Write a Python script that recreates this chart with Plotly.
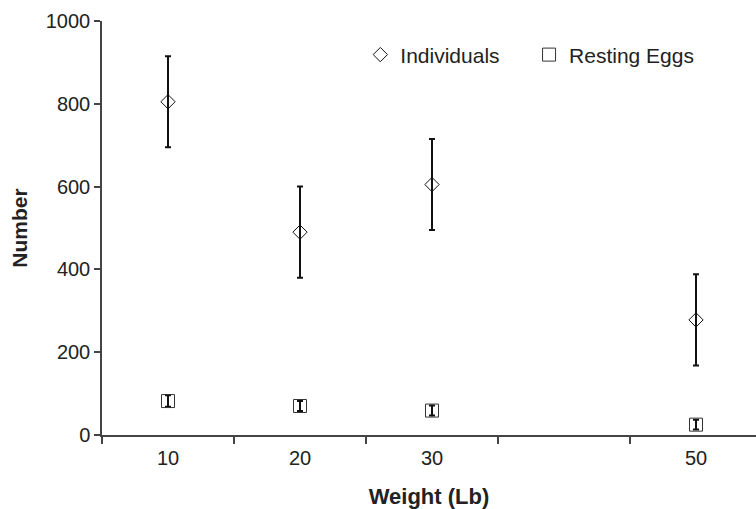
import plotly.graph_objects as go

# Data
categories = ["10", "20", "30", " ", "50"]
weights = ["10", "20", "30", "50"]
individuals = [805, 490, 605, 278]
individuals_err = [110, 110, 110, 110]
resting_eggs = [82, 70, 59, 25]
resting_eggs_err = [14, 12, 12, 12]
y_ticks = [0, 200, 400, 600, 800, 1000]

FONT = "Liberation Sans, Arial, Helvetica, sans-serif"
AXIS = "#444444"

fig = go.Figure()
fig.add_trace(go.Scatter(
    x=weights, y=individuals, mode="markers", name="Individuals", showlegend=True,
    marker=dict(symbol="diamond-open", size=11, color="#111111", line=dict(width=1, color="#111111")),
    error_y=dict(type="data", array=individuals_err, color="#111111", thickness=2, width=3),
    legend="legend",
))
fig.add_trace(go.Scatter(
    x=weights, y=resting_eggs, mode="markers", name="Resting Eggs", showlegend=True,
    marker=dict(symbol="square-open", size=13, color="#333333", line=dict(width=1, color="#333333")),
    error_y=dict(type="data", array=resting_eggs_err, color="#111111", thickness=2, width=3),
    legend="legend2",
))

fig.update_layout(
    width=756, height=509,
    margin=dict(l=102, r=0, t=21, b=74),
    paper_bgcolor="white", plot_bgcolor="white",
    showlegend=True,
    font=dict(family=FONT, size=20, color="#222222"),
    legend=dict(x=0.395, y=0.918, xanchor="left", yanchor="middle", bgcolor="rgba(0,0,0,0)",
                itemwidth=30, font=dict(size=21, color="#222222")),
    legend2=dict(x=0.653, y=0.918, xanchor="left", yanchor="middle", bgcolor="rgba(0,0,0,0)",
                 itemwidth=30, font=dict(size=21, color="#222222")),
    xaxis=dict(
        type="category", categoryorder="array", categoryarray=categories,
        range=[-0.5, -0.5 + 654 / 132],
        showline=True, linecolor=AXIS, linewidth=1.5,
        ticks="outside", tickson="boundaries", ticklen=7, tickcolor=AXIS, tickwidth=1.5,
        showgrid=False, zeroline=False, automargin=False,
        tickfont=dict(size=20), ticklabelstandoff=4,
        title=dict(text="<b>Weight (Lb)</b>", font=dict(size=22, color="#222222"), standoff=21),
    ),
    yaxis=dict(
        range=[0, 1000], tickvals=y_ticks,
        showline=True, linecolor=AXIS, linewidth=1.5,
        ticks="outside", ticklen=6, tickcolor=AXIS, tickwidth=1.5,
        showgrid=False, zeroline=False, automargin=False,
        tickfont=dict(size=20),
        title=dict(text="<b>Number</b>", font=dict(size=21, color="#222222"), standoff=12),
    ),
)

fig.write_html("out.html", config={"displayModeBar": False},
               post_script="document.body.style.margin='0';")
